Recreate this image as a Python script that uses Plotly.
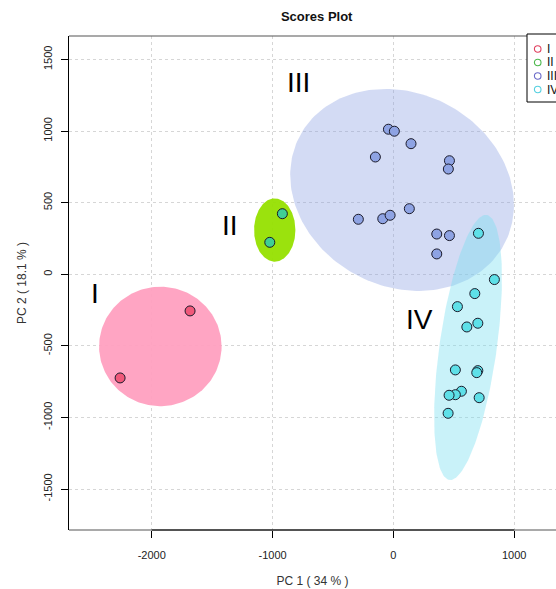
import numpy as np
import plotly.graph_objects as go

# ---- data ----
groups = ["I", "II", "III", "IV"]
pc1_I = [-1683, -2262]
pc2_I = [-256, -724]
pc1_II = [-919, -1023]
pc2_II = [423, 223]
pc1_III = [-41, 8, 146, -149, 464, 455, -290, -88, -27, 132, 359, 464, 359]
pc2_III = [1013, 999, 912, 819, 793, 735, 384, 388, 412, 458, 281, 270, 142]
pc1_IV = [704, 836, 674, 530, 699, 608, 513, 699, 690, 563, 513, 461, 710, 453]
pc2_IV = [286, -37, -135, -226, -342, -368, -668, -673, -687, -817, -841, -845, -862, -971]

# ellipse parameters: centre x, centre y, semi-major, semi-minor, angle (deg, data space)
ell_cx = [-1929, -982, 72, 618]
ell_cy = [-504, 309, 589, -511]
ell_a = [507, 171, 939, 938]
ell_b = [417, 221, 688, 236]
ell_ang = [0, 0, -14.1, 80.35]

label_x = [-2469, -1352, -789, 220]
label_y = [-131, 344, 1341, -318]

x_ticks = [-2000, -1000, 0, 1000]
x_ticktext = ["-2000", "-1000", "0", "1000"]
y_ticks = [-1500, -1000, -500, 0, 500, 1000, 1500]
y_ticktext = ["-1500", "-1000", "-500", "0", "500", "1000", "1500"]

pc1 = [pc1_I, pc1_II, pc1_III, pc1_IV]
pc2 = [pc2_I, pc2_II, pc2_III, pc2_IV]

fill_cols = ["rgba(255,160,192,0.95)", "rgba(150,224,0,0.95)",
             "rgba(140,160,225,0.38)", "rgba(120,222,240,0.40)"]
pt_cols = ["#f0587a", "#3fcf95", "#8ea3e3", "#5ee0e8"]
leg_cols = ["#e0405f", "#4cb84c", "#6a6ac8", "#55d0e0"]

# plot geometry in screen pixels
FIG_W, FIG_H = 556, 589
PL, PT, PB = 69, 36, 530          # plot left, top, bottom
PW = FIG_W - PL
PH = PB - PT


def px(sx):
    return (sx - PL) / PW


def py(sy):
    return (PB - sy) / PH


fig = go.Figure()

t = np.linspace(0, 2 * np.pi, 200)
for i in range(4):
    th = np.deg2rad(ell_ang[i])
    ex = ell_cx[i] + ell_a[i] * np.cos(t) * np.cos(th) - ell_b[i] * np.sin(t) * np.sin(th)
    ey = ell_cy[i] + ell_a[i] * np.cos(t) * np.sin(th) + ell_b[i] * np.sin(t) * np.cos(th)
    fig.add_trace(go.Scatter(x=ex, y=ey, mode="lines", fill="toself",
                             fillcolor=fill_cols[i], line=dict(width=0),
                             showlegend=False, hoverinfo="skip"))

for i in range(4):
    fig.add_trace(go.Scatter(x=pc1[i], y=pc2[i], mode="markers",
                             marker=dict(size=10, color=pt_cols[i],
                                         line=dict(color="#1a1a2a", width=1)),
                             showlegend=False, name=groups[i]))

for i in range(4):
    fig.add_annotation(x=label_x[i], y=label_y[i], text=groups[i], showarrow=False,
                       font=dict(size=28, color="black", family="Liberation Sans"))

# frame (top, bottom) in grey, axis line black
fig.add_shape(type="line", xref="paper", yref="paper", x0=0, x1=1.02, y0=1, y1=1,
              line=dict(color="#555", width=1.2))
fig.add_shape(type="line", xref="paper", yref="paper", x0=0, x1=1.02, y0=0, y1=0,
              line=dict(color="#555", width=1.2))
fig.add_shape(type="line", xref="x", yref="paper", x0=min(x_ticks), x1=max(x_ticks), y0=0, y1=0,
              line=dict(color="black", width=1.2))

# legend box (cut by the right edge as in the original)
leg_left, leg_top, leg_bot = 527, 34, 102
fig.add_shape(type="rect", xref="paper", yref="paper", x0=px(leg_left), x1=px(600),
              y0=py(leg_bot), y1=py(leg_top), line=dict(color="black", width=1),
              fillcolor="white", layer="above")
leg_y = [49, 62.5, 76, 89.5]
for i in range(4):
    r = 3.3
    fig.add_shape(type="circle", xref="paper", yref="paper",
                  x0=px(537.7 - r), x1=px(537.7 + r), y0=py(leg_y[i] + r), y1=py(leg_y[i] - r),
                  line=dict(color=leg_cols[i], width=1.1), layer="above")
    fig.add_annotation(xref="paper", yref="paper", x=px(545), y=py(leg_y[i]),
                       xanchor="left", yanchor="middle", text=groups[i], showarrow=False,
                       font=dict(size=12, color="#111"))

fig.update_layout(
    width=FIG_W, height=FIG_H,
    margin=dict(l=PL, r=0, t=PT, b=FIG_H - PB, autoexpand=False),
    paper_bgcolor="white", plot_bgcolor="white",
    font=dict(family="Liberation Sans", color="#222", size=11),
    title=dict(text="<b>Scores Plot</b>", x=316.7 / FIG_W, xanchor="center",
               y=1 - 16 / FIG_H, yanchor="middle", font=dict(size=13, color="#111")),
    showlegend=False,
    xaxis=dict(range=[-2685, 1346], tickvals=x_ticks, ticktext=x_ticktext,
               ticks="outside", ticklen=7,
               tickcolor="black", showgrid=True, gridcolor="#d6d6d6", griddash="dot",
               gridwidth=1, zeroline=False, showline=False,
               title=dict(text="PC 1 ( 34 % )", font=dict(size=12, color="#333"), standoff=16),
               ticklabelstandoff=8),
    yaxis=dict(range=[-1786, 1664], tickvals=y_ticks, ticktext=y_ticktext,
               ticks="outside", ticklen=7,
               tickcolor="black", tickangle=-90, showgrid=True, gridcolor="#d6d6d6",
               griddash="dot", gridwidth=1, zeroline=False, showline=True,
               linecolor="black", linewidth=1.2,
               title=dict(text="PC 2 ( 18.1 % )", font=dict(size=12, color="#333"), standoff=12),
               ticklabelstandoff=5),
)

fig.write_html("out.html", config={"displayModeBar": False},
               post_script="document.body.style.margin='0';document.body.style.overflow='hidden';")
